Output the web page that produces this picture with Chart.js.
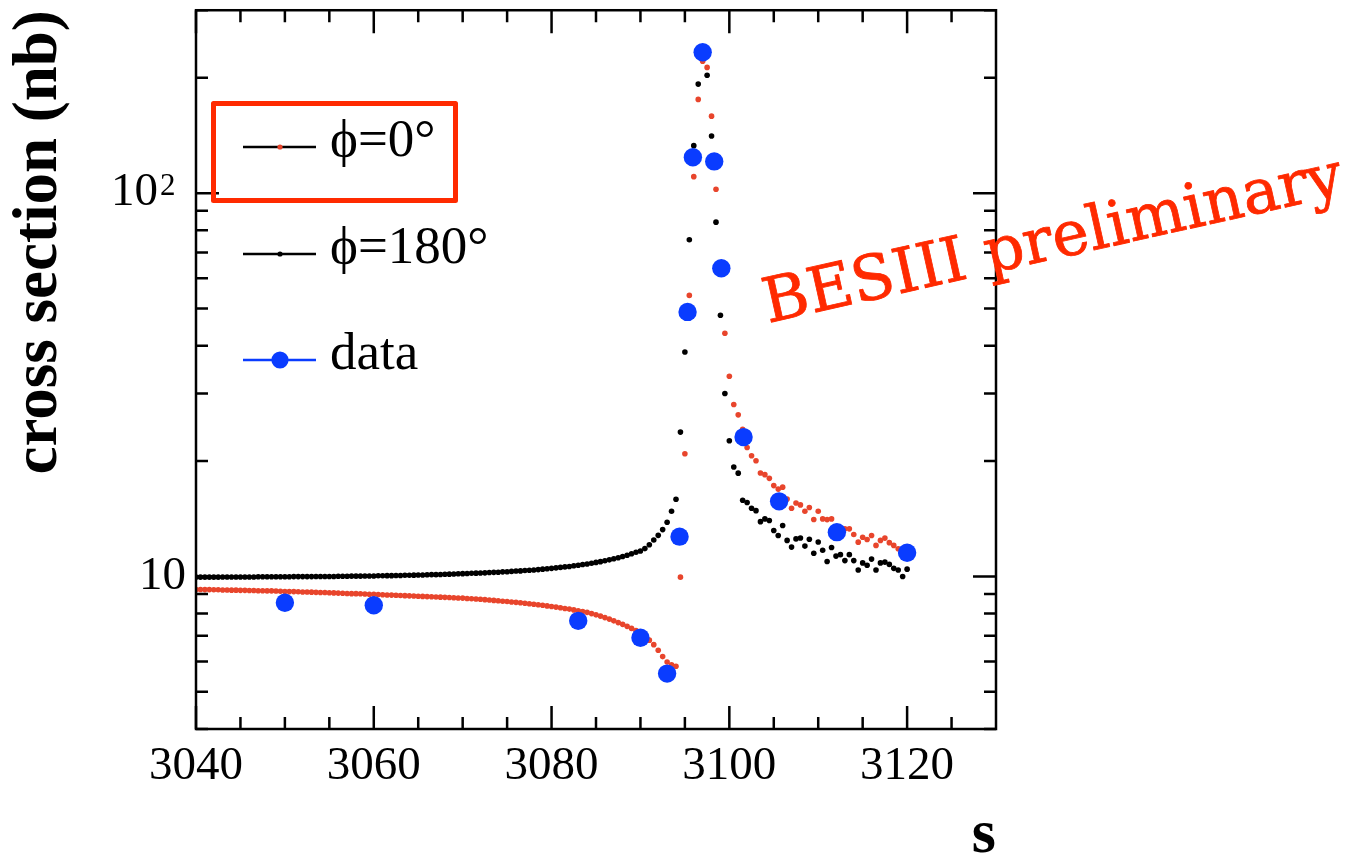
<!DOCTYPE html>
<html>
<head>
<meta charset="utf-8">
<title>cross section (nb) vs s</title>
<script src="https://cdn.jsdelivr.net/npm/chart.js@4.4.0/dist/chart.umd.min.js"></script>
<style>
    html, body { margin: 0; padding: 0; background: #fff; }
    canvas { display: block; }
</style>
</head>
<body>
<canvas id="xsChart" width="1361" height="857"></canvas>
<script>
// measured scan points
const dataEnergy = [3050, 3060, 3083, 3090, 3093, 3094.4, 3095.3, 3095.9, 3097, 3098.3, 3099.1, 3101.6, 3105.6, 3112.1, 3120];
const dataXs = [8.54, 8.41, 7.66, 6.92, 5.58, 12.7, 49.0, 124, 233, 121, 63.7, 23.1, 15.7, 13.05, 11.53];

// model curves, 0.5 step
const modelEnergy = [
    3040, 3040.5, 3041, 3041.5, 3042, 3042.5, 3043, 3043.5, 3044, 3044.5, 3045, 3045.5, 3046, 3046.5, 3047, 3047.5, 3048, 3048.5, 3049, 3049.5,
    3050, 3050.5, 3051, 3051.5, 3052, 3052.5, 3053, 3053.5, 3054, 3054.5, 3055, 3055.5, 3056, 3056.5, 3057, 3057.5, 3058, 3058.5, 3059, 3059.5,
    3060, 3060.5, 3061, 3061.5, 3062, 3062.5, 3063, 3063.5, 3064, 3064.5, 3065, 3065.5, 3066, 3066.5, 3067, 3067.5, 3068, 3068.5, 3069, 3069.5,
    3070, 3070.5, 3071, 3071.5, 3072, 3072.5, 3073, 3073.5, 3074, 3074.5, 3075, 3075.5, 3076, 3076.5, 3077, 3077.5, 3078, 3078.5, 3079, 3079.5,
    3080, 3080.5, 3081, 3081.5, 3082, 3082.5, 3083, 3083.5, 3084, 3084.5, 3085, 3085.5, 3086, 3086.5, 3087, 3087.5, 3088, 3088.5, 3089, 3089.5,
    3090, 3090.5, 3091, 3091.5, 3092, 3092.5, 3093, 3093.5, 3094, 3094.5, 3095, 3095.5, 3096, 3096.5, 3097, 3097.5, 3098, 3098.5, 3099, 3099.5,
    3100, 3100.5, 3101, 3101.5, 3102, 3102.5, 3103, 3103.5, 3104, 3104.5, 3105, 3105.5, 3106, 3106.5, 3107, 3107.5, 3108, 3108.5, 3109, 3109.5,
    3110, 3110.5, 3111, 3111.5, 3112, 3112.5, 3113, 3113.5, 3114, 3114.5, 3115, 3115.5, 3116, 3116.5, 3117, 3117.5, 3118, 3118.5, 3119, 3119.5,
    3120
];
const xsPhi0 = [
    9.25, 9.25, 9.24, 9.24, 9.23, 9.23, 9.22, 9.22, 9.21, 9.21, 9.2, 9.2, 9.19, 9.19, 9.18, 9.18, 9.17, 9.17, 9.16, 9.15,
    9.14, 9.13, 9.13, 9.12, 9.11, 9.11, 9.1, 9.09, 9.08, 9.08, 9.07, 9.06, 9.05, 9.04, 9.03, 9.02, 9.02, 9.01, 9.0, 8.99,
    8.98, 8.97, 8.96, 8.95, 8.94, 8.93, 8.92, 8.91, 8.9, 8.89, 8.88, 8.87, 8.86, 8.85, 8.84, 8.83, 8.82, 8.81, 8.8, 8.79,
    8.78, 8.76, 8.75, 8.73, 8.72, 8.7, 8.68, 8.66, 8.64, 8.62, 8.6, 8.58, 8.56, 8.54, 8.51, 8.49, 8.46, 8.44, 8.41, 8.38,
    8.35, 8.32, 8.29, 8.25, 8.22, 8.18, 8.14, 8.1, 8.06, 8.0, 7.94, 7.88, 7.81, 7.74, 7.66, 7.58, 7.5, 7.41, 7.32, 7.23,
    7.12, 6.98, 6.82, 6.64, 6.42, 6.18, 5.98, 5.88, 5.83, 9.96, 20.9, 54.1, 110.4, 175.6, 220.8, 212.8, 158.8, 102.4, 65, 43.1,
    33.3, 28.1, 26.4, 24.2, 21.7, 20.65, 20.04, 18.62, 18.43, 18.03, 17.26, 16.9, 17.1, 15.93, 15.07, 15.55, 15.37, 14.8, 15.13, 14.08,
    14.8, 14.13, 14.07, 14.13, 13.5, 13.18, 13.31, 13.31, 12.87, 12.29, 12.66, 12.49, 12.79, 12.05, 12.42, 12.59, 12.25, 12.05, 11.81, 11.62,
    11.5
];
const xsPhi180 = [
    9.96, 9.96, 9.96, 9.96, 9.96, 9.96, 9.97, 9.97, 9.97, 9.97, 9.97, 9.97, 9.97, 9.97, 9.98, 9.98, 9.98, 9.98, 9.98, 9.98,
    9.98, 9.98, 9.99, 9.99, 9.99, 9.99, 9.99, 10.0, 10.0, 10.0, 10.0, 10.0, 10.01, 10.01, 10.01, 10.02, 10.02, 10.02, 10.03, 10.03,
    10.03, 10.04, 10.04, 10.05, 10.05, 10.06, 10.06, 10.07, 10.07, 10.08, 10.09, 10.09, 10.1, 10.11, 10.11, 10.12, 10.13, 10.14, 10.15, 10.16,
    10.17, 10.18, 10.19, 10.2, 10.21, 10.22, 10.24, 10.25, 10.26, 10.28, 10.29, 10.31, 10.33, 10.34, 10.36, 10.38, 10.4, 10.42, 10.45, 10.47,
    10.5, 10.53, 10.56, 10.59, 10.62, 10.66, 10.7, 10.74, 10.78, 10.83, 10.88, 10.93, 10.99, 11.05, 11.12, 11.19, 11.27, 11.36, 11.46, 11.56,
    11.65, 11.82, 12.1, 12.45, 12.8, 13.25, 13.85, 14.8, 15.9, 23.8, 38.5, 75.6, 133, 192.5, 225, 203, 141, 84, 48, 30,
    22.6, 19.3, 18.6, 15.8, 15.6, 15.07, 14.85, 13.9, 14.13, 14.0, 13.18, 12.79, 13.58, 12.42, 11.93, 12.53, 12.6, 12.0, 12.5, 11.5,
    12.3, 11.7, 10.94, 11.9, 11.3, 11.4, 11.0, 11.4, 11.0, 10.4, 10.85, 10.7, 11.1, 10.4, 10.85, 10.9, 10.75, 10.5, 10.4, 10.0,
    10.45
];

// axis ticks
const xMajorTicks = [3040, 3060, 3080, 3100, 3120];
const xMinorTicks = [3045, 3050, 3055, 3065, 3070, 3075, 3085, 3090, 3095, 3105, 3110, 3115, 3125];
const yMajorTicks = [10, 100];
const yMinorTicks = [4, 5, 6, 7, 8, 9, 20, 30, 40, 50, 60, 70, 80, 90, 200, 300];
// tick labels as base + exponent (exponent drawn raised)
const yTickBase = { 10: '10', 100: '10' };
const yTickExp = { 100: '2' };

const legendLabels = ['\u03d5=0\u00b0', '\u03d5=180\u00b0', 'data'];
const stampText = 'BESIII preliminary';

const RED = '#e8452c';
const BLUE = '#0a3cff';
const STAMP_RED = '#ff2a00';
const SERIF = '"Liberation Serif", "Times New Roman", serif';

function toPoints(xs, ys) {
    return xs.map((x, i) => ({ x: x, y: ys[i] }));
}

// frame with inward ticks on all four sides, plus the power-of-ten labels
const frameTicks = {
    id: 'frameTicks',
    afterDatasetsDraw(chart) {
        const ctx = chart.ctx;
        const a = chart.chartArea;
        const sx = chart.scales.x;
        const sy = chart.scales.y;
        ctx.save();
        ctx.strokeStyle = '#000';
        ctx.lineWidth = 2.5;
        ctx.beginPath();
        function xTick(v, len) {
            const px = sx.getPixelForValue(v);
            ctx.moveTo(px, a.bottom); ctx.lineTo(px, a.bottom - len);
            ctx.moveTo(px, a.top); ctx.lineTo(px, a.top + len);
        }
        function yTick(v, len) {
            const py = sy.getPixelForValue(v);
            ctx.moveTo(a.left, py); ctx.lineTo(a.left + len, py);
            ctx.moveTo(a.right, py); ctx.lineTo(a.right - len, py);
        }
        xMajorTicks.forEach(v => xTick(v, 23));
        xMinorTicks.forEach(v => xTick(v, 12));
        yMajorTicks.forEach(v => yTick(v, 23));
        yMinorTicks.forEach(v => yTick(v, 12));
        ctx.stroke();
        ctx.strokeRect(a.left, a.top, a.right - a.left, a.bottom - a.top);

        // labels with an exponent: base right-aligned, exponent raised after it
        ctx.fillStyle = '#000';
        Object.keys(yTickExp).forEach(k => {
            const py = sy.getPixelForValue(Number(k));
            const expX = a.left - 36;
            ctx.font = '47px ' + SERIF;
            ctx.textAlign = 'right';
            ctx.textBaseline = 'middle';
            ctx.fillText(yTickBase[k], expX - 2, py);
            ctx.font = '31px ' + SERIF;
            ctx.textAlign = 'left';
            ctx.textBaseline = 'alphabetic';
            ctx.fillText(yTickExp[k], expX, py + 2);
        });
        ctx.restore();
    }
};

// legend block and the rotated stamp
const legendStamp = {
    id: 'legendStamp',
    afterDraw(chart) {
        const ctx = chart.ctx;
        ctx.save();

        const rows = [
            { y: 147, line: '#000', marker: RED, r: 2.6 },
            { y: 254, line: '#000', marker: '#000', r: 2.6 },
            { y: 360, line: BLUE, marker: BLUE, r: 8.6 }
        ];
        ctx.font = '53px ' + SERIF;
        ctx.textBaseline = 'middle';
        ctx.textAlign = 'left';
        rows.forEach((row, i) => {
            ctx.strokeStyle = row.line;
            ctx.lineWidth = 2.6;
            ctx.beginPath();
            ctx.moveTo(243, row.y);
            ctx.lineTo(316, row.y);
            ctx.stroke();
            ctx.fillStyle = row.marker;
            ctx.beginPath();
            ctx.arc(280, row.y, row.r, 0, Math.PI * 2);
            ctx.fill();
            ctx.fillStyle = '#000';
            ctx.fillText(legendLabels[i], 330, row.y - 5);
        });

        ctx.strokeStyle = STAMP_RED;
        ctx.lineWidth = 5;
        ctx.lineJoin = 'round';
        ctx.strokeRect(213.5, 103.5, 242, 97);

        ctx.translate(768, 323);
        ctx.rotate(-12.6 * Math.PI / 180);
        ctx.font = '62px "DejaVu Serif", serif';
        ctx.textBaseline = 'alphabetic';
        const w = ctx.measureText(stampText).width;
        ctx.scale(592 / w, 1);
        ctx.fillStyle = STAMP_RED;
        ctx.strokeStyle = STAMP_RED;
        ctx.lineWidth = 0.8;
        ctx.fillText(stampText, 0, 0);
        ctx.strokeText(stampText, 0, 0);
        ctx.restore();
    }
};

new Chart(document.getElementById('xsChart'), {
    type: 'scatter',
    data: {
        datasets: [
            {
                label: 'data',
                data: toPoints(dataEnergy, dataXs),
                backgroundColor: BLUE,
                borderColor: BLUE,
                pointRadius: 9.2,
                pointBorderWidth: 0,
                showLine: false
            },
            {
                label: '\u03d5=0\u00b0',
                data: toPoints(modelEnergy, xsPhi0),
                backgroundColor: RED,
                borderColor: RED,
                pointRadius: 2.8,
                pointBorderWidth: 0,
                showLine: false
            },
            {
                label: '\u03d5=180\u00b0',
                data: toPoints(modelEnergy, xsPhi180),
                backgroundColor: '#000',
                borderColor: '#000',
                pointRadius: 2.8,
                pointBorderWidth: 0,
                showLine: false
            }
        ]
    },
    options: {
        responsive: false,
        devicePixelRatio: 1,
        animation: false,
        events: [],
        layout: { padding: { left: 0, right: 365, top: 10, bottom: 0 } },
        plugins: {
            legend: { display: false },
            tooltip: { enabled: false }
        },
        scales: {
            x: {
                type: 'linear',
                min: 3040,
                max: 3130,
                grid: { display: false, drawTicks: false },
                border: { display: false },
                afterBuildTicks: s => { s.ticks = xMajorTicks.map(v => ({ value: v })); },
                afterFit: s => { s.height = 128; },
                ticks: {
                    autoSkip: false,
                    maxRotation: 0,
                    padding: 9,
                    color: '#000',
                    font: { family: SERIF, size: 47 },
                    callback: v => String(v)
                },
                title: {
                    display: true,
                    text: 's',
                    align: 'end',
                    color: '#000',
                    font: { family: SERIF, size: 62, weight: 'bold', lineHeight: 0.64 },
                    padding: { top: 0, bottom: 1 }
                }
            },
            y: {
                type: 'logarithmic',
                min: 4,
                max: 300,
                grid: { display: false, drawTicks: false },
                border: { display: false },
                afterBuildTicks: s => { s.ticks = yMajorTicks.map(v => ({ value: v })); },
                afterFit: s => { s.width = 196; },
                ticks: {
                    autoSkip: false,
                    padding: 10,
                    color: '#000',
                    // tiny line height keeps the label box from pushing the plot top down
                    font: { family: SERIF, size: 47, lineHeight: 0.01 },
                    // labels with an exponent are drawn by frameTicks
                    callback: v => (yTickExp[v] ? '' : (yTickBase[v] || ''))
                },
                title: {
                    display: true,
                    text: 'cross section (nb)',
                    align: 'end',
                    color: '#000',
                    font: { family: SERIF, size: 63, weight: 'bold', lineHeight: 1.2 },
                    padding: { top: 2, bottom: 0 }
                }
            }
        }
    },
    plugins: [frameTicks, legendStamp]
});
</script>
</body>
</html>
